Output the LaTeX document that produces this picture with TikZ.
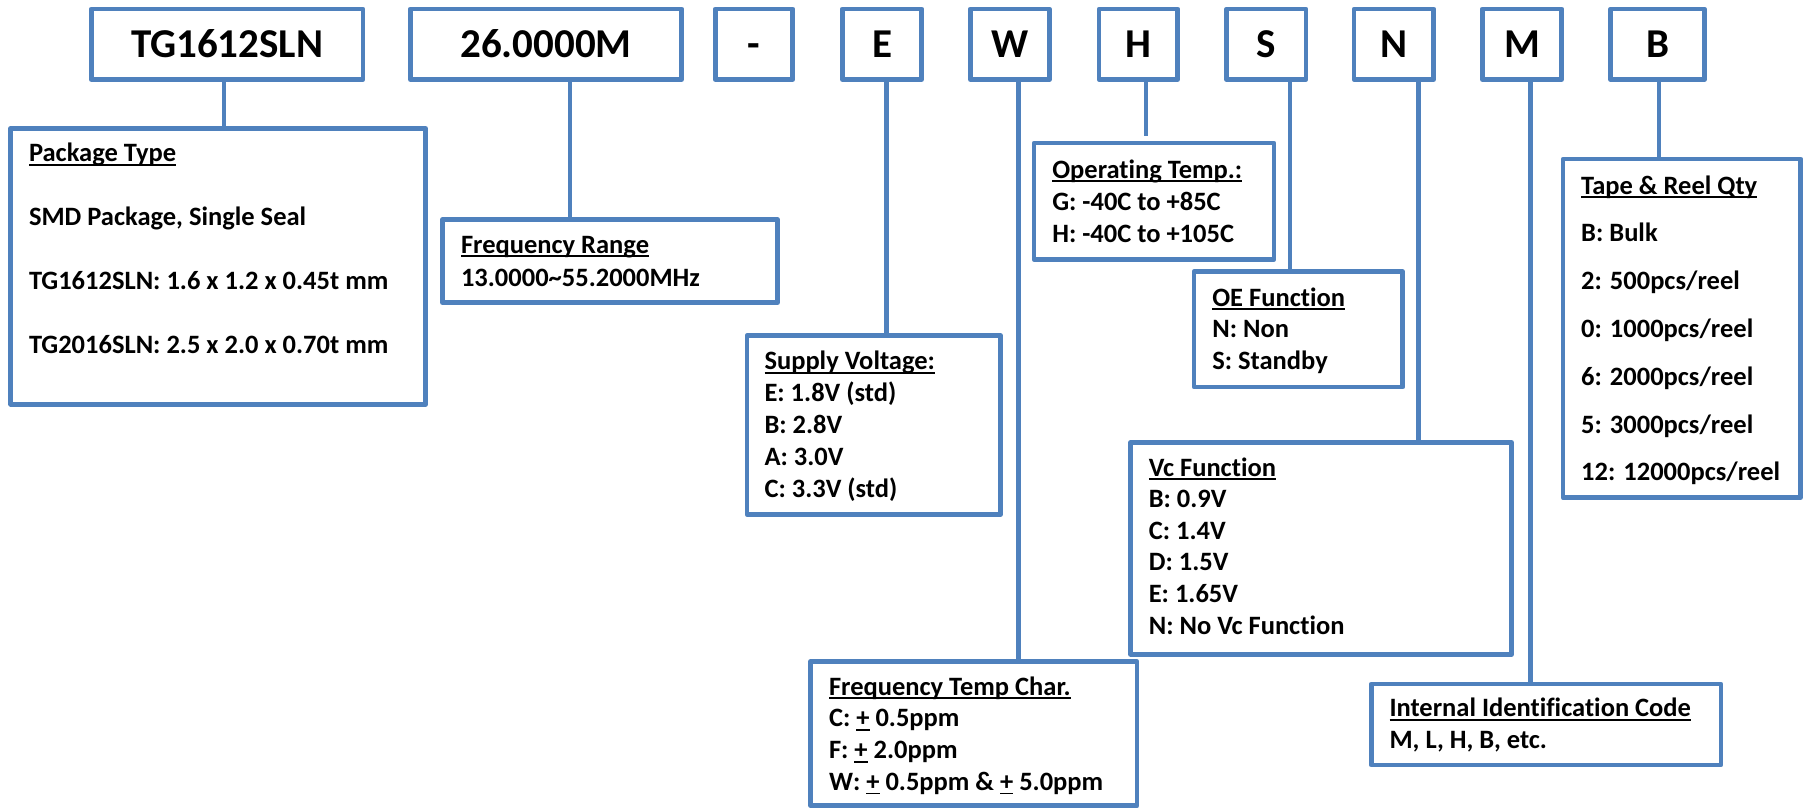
\documentclass[tikz,border=0pt]{standalone}
\usepackage{fontspec}
\setmainfont{Carlito}[Ligatures=NoCommon]
\definecolor{bl}{HTML}{4F81BD}
\newsavebox\ulbox
\newcommand\ulx[1]{\sbox\ulbox{#1}\rlap{\rule[-4.2pt]{\wd\ulbox}{1.8pt}}\usebox\ulbox}
\newcommand\blk[2]{\vtop{\baselineskip=#1\relax\lineskiplimit=-\maxdimen\lineskip=0pt\halign{##\hfil\cr#2\crcr}}}
\begin{document}
\begin{tikzpicture}[x=1pt,y=-1pt,
  box/.style={draw=bl,line width=4.8pt,rectangle,inner sep=0pt,outer sep=0pt,line join=round},
  topbox/.style={box,minimum height=70.5pt,font=\fontsize{41}{41}\selectfont\bfseries,text height=25.9pt,text depth=0pt},
  conn/.style={draw=bl,line width=4.5pt},
  txt/.style={anchor=base west,inner sep=0pt,outer sep=0pt,font=\fontsize{26.5}{31.7}\selectfont\bfseries}]
\useasboundingbox (0,0) rectangle (1806,809);

% top row
\node[topbox,minimum width=271.8pt] (tg) at (227.1,44.25) {TG1612SLN};
\node[topbox,minimum width=271.2pt] (fq) at (546,44.25) {26.0000M};
\node[topbox,minimum width=77.5pt] (da) at (754,44.25) {-};
\node[topbox,minimum width=79.2pt] (e) at (882,44.25) {E};
\node[topbox,minimum width=78.9pt] (w) at (1009.85,44.25) {W};
\node[topbox,minimum width=78.6pt] (h) at (1138.3,44.25) {H};
\node[topbox,minimum width=79.2pt] (s) at (1266.3,44.25) {S};
\node[topbox,minimum width=79.6pt] (n) at (1393.8,44.25) {N};
\node[topbox,minimum width=79.2pt] (m) at (1522,44.25) {M};
\node[topbox,minimum width=93.6pt] (b) at (1657.5,44.25) {B};

% lower boxes
\node[box,minimum width=414.8pt,minimum height=275.9pt] (pkg) at (218.2,266.35) {};
\node[box,minimum width=335.2pt,minimum height=82.9pt] (frq) at (610,261.15) {};
\node[box,minimum width=253.6pt,minimum height=178.6pt] (sup) at (873.8,425) {};
\node[box,minimum width=240pt,minimum height=116.3pt] (op) at (1154,201.15) {};
\node[box,minimum width=208.6pt,minimum height=115.3pt] (oe) at (1298.3,329.35) {};
\node[box,minimum width=380.9pt,minimum height=211.9pt] (vc) at (1321.15,548.35) {};
\node[box,minimum width=326.3pt,minimum height=143.9pt] (ftc) at (973.85,733.65) {};
\node[box,minimum width=237.6pt,minimum height=338.6pt] (tape) at (1681.8,328.3) {};
\node[box,minimum width=349.6pt,minimum height=81pt] (iic) at (1546.2,724.5) {};

% connectors
\draw[conn] ([xshift=-3.1pt]tg.south) -- ([xshift=-3.1pt]tg.south |- pkg.north);
\draw[conn] ([xshift=24pt]fq.south) -- ([xshift=24pt]fq.south |- frq.north);
\draw[conn] ([xshift=4.5pt]e.south) -- ([xshift=4.5pt]e.south |- sup.north);
\draw[conn] ([xshift=8.45pt]w.south) -- ([xshift=8.45pt]w.south |- ftc.north);
\draw[conn,shorten >=7.5pt] ([xshift=7.7pt]h.south) -- ([xshift=7.7pt]h.south |- op.north);
\draw[conn] ([xshift=23.7pt]s.south) -- ([xshift=23.7pt]s.south |- oe.north);
\draw[conn] ([xshift=24.7pt]n.south) -- ([xshift=24.7pt]n.south |- vc.north);
\draw[conn] ([xshift=8.5pt]m.south) -- ([xshift=8.5pt]m.south |- iic.north);
\draw[conn] ([xshift=1.5pt]b.south) -- ([xshift=1.5pt]b.south |- tape.north);

% texts
\node[txt] (pkgt) at (29,161.5) {\blk{64pt}{\ulx{Package Type}\cr SMD Package, Single Seal\cr TG1612SLN: 1.6 x 1.2 x 0.45t mm\cr TG2016SLN: 2.5 x 2.0 x 0.70t mm}};
\node[txt] (frqt) at (461,253) {\blk{33pt}{\ulx{Frequency Range}\cr 13.0000\char"7E 55.2000MHz}};
\node[txt] (supt) at (764.5,369.5) {\blk{32pt}{\ulx{Supply Voltage:}\cr E: 1.8V (std)\cr B: 2.8V\cr A: 3.0V\cr C: 3.3V (std)}};
\node[txt] (opt) at (1052.3,178) {\blk{32pt}{\ulx{Operating Temp.:}\cr G: -40C to +85C\cr H: -40C to +105C}};
\node[txt] (oet) at (1212.3,306) {\blk{31.5pt}{\ulx{OE Function}\cr N: Non\cr S: Standby}};
\node[txt] (vct) at (1148.8,476) {\blk{31.6pt}{\ulx{Vc Function}\cr B: 0.9V\cr C: 1.4V\cr D: 1.5V\cr E: 1.65V\cr N: No Vc Function}};
\node[txt] (ftct) at (829,695) {\blk{31.7pt}{\ulx{Frequency Temp Char.}\cr C: \ulx{+} 0.5ppm\cr F: \ulx{+} 2.0ppm\cr W: \ulx{+} 0.5ppm \& \ulx{+} 5.0ppm}};
\node[txt] (tapet) at (1581.2,194) {\blk{47.8pt}{\ulx{Tape \& Reel Qty}\cr B: Bulk\cr 2: 500pcs/reel\cr 0: 1000pcs/reel\cr 6: 2000pcs/reel\cr 5: 3000pcs/reel\cr 12: 12000pcs/reel}};
\node[txt] (iict) at (1389.5,716.7) {\blk{31.6pt}{\ulx{Internal Identification Code}\cr M, L, H, B, etc.}};
\end{tikzpicture}
\end{document}
